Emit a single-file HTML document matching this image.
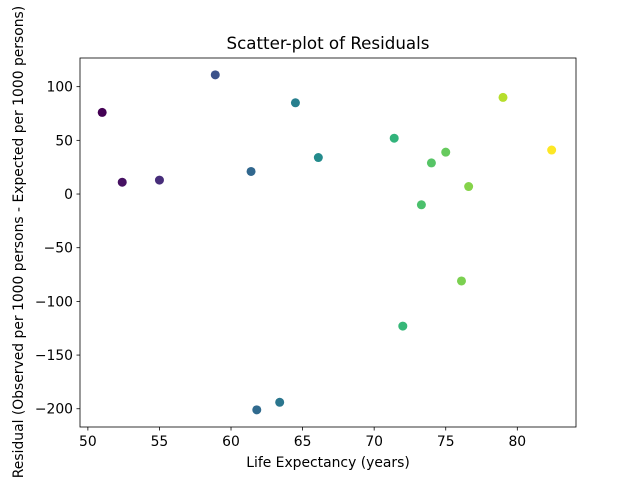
<!DOCTYPE html>
<html><head><meta charset="utf-8"><style>
body{margin:0;background:#fff;}
svg{display:block;font-family:"DejaVu Sans","Liberation Sans",sans-serif;}
</style></head><body>
<svg id="chart" width="640" height="480">
<rect x="0" y="0" width="640" height="480" fill="#fff"/>
<text x="328" y="49" text-anchor="middle" font-size="16.7">Scatter-plot of Residuals</text>
<g id="plot"></g>
<text x="328" y="467" text-anchor="middle" font-size="13.9">Life Expectancy (years)</text>
<text transform="translate(23,242) rotate(-90)" text-anchor="middle" font-size="13.9">Residual (Observed per 1000 persons - Expected per 1000 persons)</text>
</svg>
<script>
const lifeExpectancy=[51.0,52.4,55.0,58.9,61.4,61.8,64.5,63.4,66.1,71.4,72.0,73.3,74.0,75.0,76.1,76.6,79.0,82.4];
const residuals=[76,11,13,111,21,-201,85,-194,34,52,-123,-10,29,39,-81,7,90,41];
const xTicks=[50,55,60,65,70,75,80];
const yTicks=[100,50,0,-50,-100,-150,-200];
const L=80,R=576,T=58,B=427;
const xMin=49.45,xMax=84.1,yMin=-217,yMax=126.7;
const sx=v=>L+(v-xMin)/(xMax-xMin)*(R-L);
const sy=v=>B-(v-yMin)/(yMax-yMin)*(B-T);
const vir=[[68,1,84],[72,40,120],[62,74,137],[49,104,142],[38,130,142],[31,158,137],[53,183,121],[109,205,89],[180,222,44],[253,231,37]];
function viridis(t){t=Math.max(0,Math.min(1,t))*(vir.length-1);const i=Math.min(Math.floor(t),vir.length-2),f=t-i;const c=vir[i].map((a,k)=>Math.round(a+(vir[i+1][k]-a)*f));return `rgb(${c})`;}
const ns="http://www.w3.org/2000/svg";
const g=document.getElementById('plot');
function mk(tag,attrs){const e=document.createElementNS(ns,tag);for(const k in attrs)e.setAttribute(k,attrs[k]);g.appendChild(e);return e;}
const minX=Math.min(...lifeExpectancy),maxX=Math.max(...lifeExpectancy);
lifeExpectancy.forEach((x,i)=>{
 const c=mk('circle',{cx:sx(x),cy:sy(residuals[i]),r:4.5,fill:viridis((x-minX)/(maxX-minX))});
 
 
});
const frame=mk('rect',{x:L,y:T,width:R-L,height:B-T,fill:'none',stroke:'#000','stroke-width':0.8});


xTicks.forEach(v=>{
 const x=sx(v);
 const t=mk('line',{x1:x,x2:x,y1:B,y2:B+3.5,stroke:'#000','stroke-width':0.8});
 
 
 const l=mk('text',{x:x,y:B+13+6,'text-anchor':'middle','font-size':13.9});
 l.textContent=v;
 
 
});
yTicks.forEach(v=>{
 const y=sy(v);
 const t=mk('line',{x1:L-3.5,x2:L,y1:y,y2:y,stroke:'#000','stroke-width':0.8});
 
 
 const l=mk('text',{x:L-7,y:y+5,'text-anchor':'end','font-size':13.9});
 l.textContent=v<0?'\u2212'+(-v):v;
 
 
});
</script>
</body></html>
